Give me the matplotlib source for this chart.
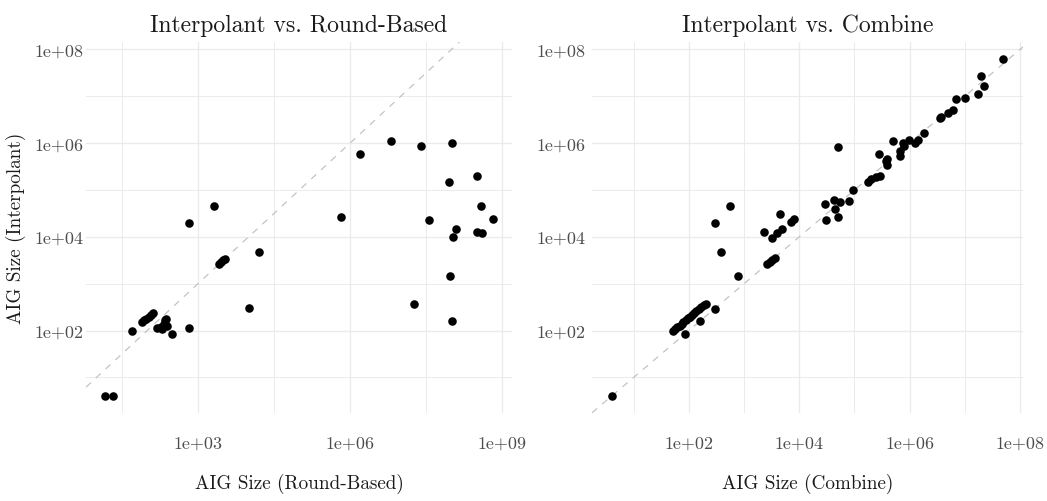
import matplotlib

matplotlib.use("Agg")
import matplotlib.pyplot as plt  # noqa: E402
from matplotlib.ticker import FixedLocator, NullFormatter  # noqa: E402

# Interpolant vs. Round-Based (AIG sizes)
rb_x = [655, 2100, 6.76e5, 1.55e6, 6.5e6, 2.5e7, 1.05e8, 9.1e7, 3.2e8, 3.8e8,
        3.6e7, 6.5e8, 1.23e8, 1.07e8, 3.2e8, 4.0e8, 15800,
        2650, 2900, 3200, 3500,
        9.5e7, 1.8e7, 10200, 1.02e8, 50,
        79, 88, 97, 108, 120, 133,
        160, 185, 200, 215, 225, 235, 250,
        316, 655, 15, 21]
rb_y = [20000, 44700, 26500, 5.9e5, 1.1e6, 8.5e5, 1.0e6, 1.5e5, 2.0e5, 45700,
        23000, 24000, 14500, 9800, 12600, 12000, 4700,
        2600, 2850, 3150, 3450,
        1500, 375, 310, 158, 100,
        155, 168, 180, 195, 215, 238,
        112, 120, 108, 140, 165, 180, 125,
        85, 115, 4, 4]

# Interpolant vs. Combine
cb_x = [5.0e7, 2.0e7, 2.2e7, 1.7e7, 1.02e7, 6.9e6,
        6.0e6, 5.0e6, 3.7e6, 3.5e6, 1.86e6,
        1.41e6, 1.26e6, 9.8e5, 7.6e5, 7.8e5, 6.6e5, 6.6e5, 4.9e5,
        3.9e5, 3.7e5, 3.9e5, 2.75e5,
        2.95e5, 2.45e5, 2.04e5, 1.74e5, 9.3e4, 8.1e4, 5.1e4,
        5.6e4, 4.2e4, 4.5e4, 2.95e4, 5.0e4, 3.0e4,
        8.1e3, 7.1e3, 4.5e3, 4.9e3, 3.9e3, 3.2e3, 2.3e3,
        560, 295, 390,
        2650, 2950, 3250, 3600,
        780, 300, 162, 87,
        52, 57, 62, 68, 74, 80, 88, 96, 105, 115, 126, 138, 152, 168, 186, 204,
        4]
cb_y = [6.3e7, 2.7e7, 1.7e7, 1.12e7, 9.1e6, 8.9e6,
        5.2e6, 4.4e6, 3.7e6, 3.4e6, 1.62e6,
        1.15e6, 1.02e6, 1.15e6, 1.0e6, 8.7e5, 6.9e5, 5.4e5, 1.1e6,
        4.7e5, 4.1e5, 3.4e5, 5.9e5,
        2.0e5, 1.86e5, 1.7e5, 1.51e5, 1.02e5, 5.9e4, 8.3e5,
        5.6e4, 6.2e4, 4.0e4, 5.0e4, 2.6e4, 2.3e4,
        2.4e4, 2.1e4, 3.1e4, 1.48e4, 1.2e4, 9.5e3, 1.26e4,
        44700, 20000, 4700,
        2600, 2850, 3150, 3500,
        1500, 295, 158, 85,
        100, 108, 117, 128, 140, 152, 166, 182, 198, 216, 238, 260, 286, 315, 350, 372,
        4]

Y_MAJOR = [1e2, 1e4, 1e6, 1e8]
Y_MINOR = [1e1, 1e3, 1e5, 1e7]
Y_LABELS = ["1e+02", "1e+04", "1e+06", "1e+08"]

RB_MAJOR = [1e3, 1e6, 1e9]
RB_MINOR = [10 ** 1.5, 10 ** 4.5, 10 ** 7.5]
RB_LABELS = ["1e+03", "1e+06", "1e+09"]

CB_MAJOR = [1e2, 1e4, 1e6, 1e8]
CB_MINOR = [1e1, 1e3, 1e5, 1e7]
CB_LABELS = ["1e+02", "1e+04", "1e+06", "1e+08"]

INK = "#1a1a1a"
TICK = "#4d4d4d"
GRID = "#ebebeb"

plt.rcParams.update({
    "font.family": "cmr10",
    "mathtext.fontset": "cm",
    "axes.unicode_minus": False,
    "axes.formatter.use_mathtext": True,
})


def panel(ax, x, y, title, xlabel, xmajor, xminor, xlabels, ypad):
    ax.scatter(x, y, s=38, color="black", linewidths=0, zorder=3)
    ax.set_xscale("log")
    ax.set_yscale("log")
    # y = x reference; anchor points sit inside the data so they don't stretch limits
    ax.axline((100, 100), (1000, 1000), color="#bdbdbd", lw=0.8, dashes=(6, 6),
              zorder=2)
    ax.xaxis.set_major_locator(FixedLocator(xmajor))
    ax.xaxis.set_minor_locator(FixedLocator(xminor))
    ax.xaxis.set_minor_formatter(NullFormatter())
    ax.set_xticklabels(xlabels)
    ax.yaxis.set_major_locator(FixedLocator(Y_MAJOR))
    ax.yaxis.set_minor_locator(FixedLocator(Y_MINOR))
    ax.yaxis.set_minor_formatter(NullFormatter())
    ax.set_yticklabels(Y_LABELS)
    ax.grid(which="major", color=GRID, lw=1.0)
    ax.grid(which="minor", color=GRID, lw=0.7)
    ax.set_axisbelow(True)
    for s in ax.spines.values():
        s.set_visible(False)
    ax.tick_params(which="both", length=0, labelsize=13, colors=TICK)
    ax.tick_params(axis="x", pad=16)
    ax.tick_params(axis="y", pad=ypad, labelleft=True)
    ax.set_title(title, fontsize=17, color=INK, pad=8)
    ax.set_xlabel(xlabel, fontsize=13.8, color=INK, labelpad=16)
    ax.margins(0.05)


fig = plt.figure(figsize=(10.47, 5.02), dpi=100)
ax1 = fig.add_axes([86 / 1047, 88 / 502, 426 / 1047, 371 / 502])
ax2 = fig.add_axes([592 / 1047, 88 / 502, 431 / 1047, 371 / 502], sharey=ax1)

panel(ax1, rb_x, rb_y, "Interpolant vs. Round-Based", "AIG Size (Round-Based)",
      RB_MAJOR, RB_MINOR, RB_LABELS, 2)
panel(ax2, cb_x, cb_y, "Interpolant vs. Combine", "AIG Size (Combine)",
      CB_MAJOR, CB_MINOR, CB_LABELS, 5)
ax1.set_ylabel("AIG Size (Interpolant)", fontsize=13.8, color=INK, labelpad=6)

fig.savefig("out.png", dpi=100)
